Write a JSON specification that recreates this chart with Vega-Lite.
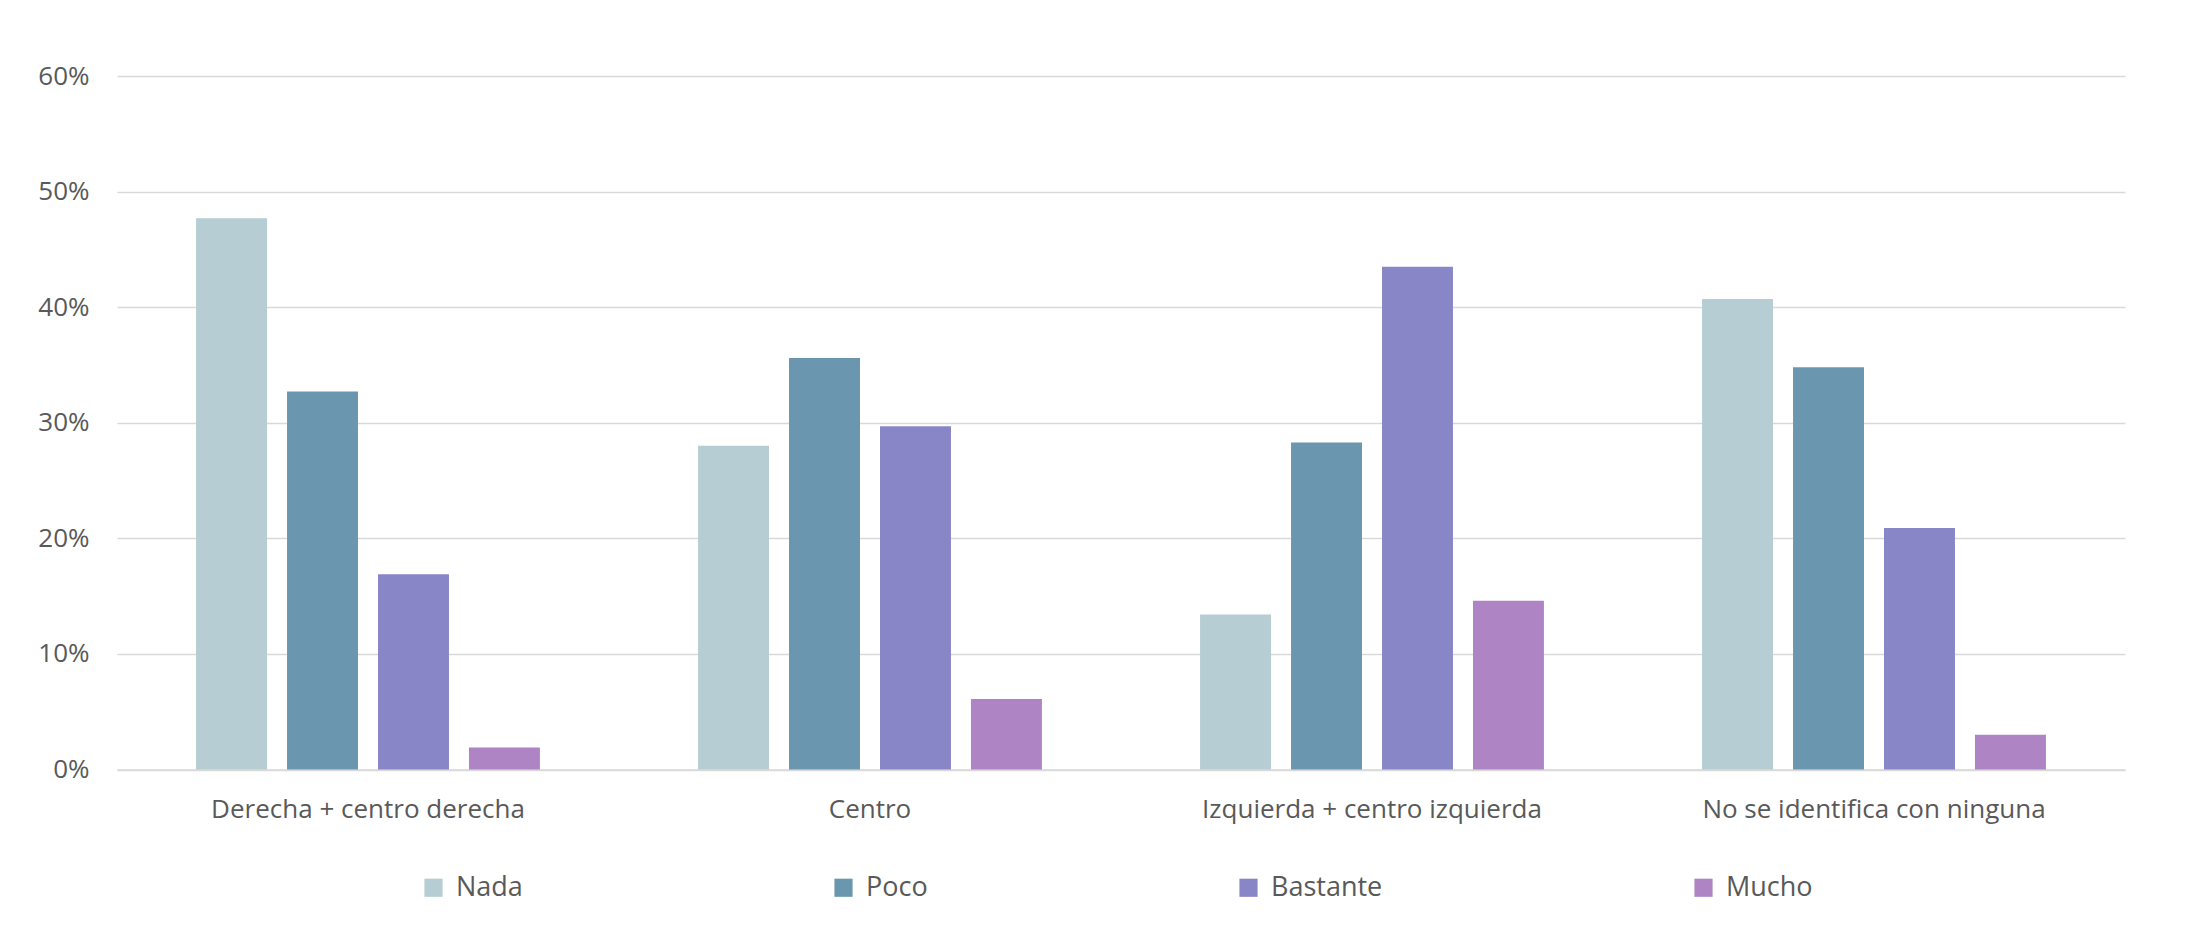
{
  "$schema": "https://vega.github.io/schema/vega-lite/v6.json",
  "autosize": {"type": "none"},
  "width": 2008,
  "height": 693.5,
  "padding": {"left": 117, "top": 76, "right": 68, "bottom": 162.5},
  "background": "white",
  "config": {
    "view": {"stroke": null},
    "font": "Open Sans",
    "axis": {"labelFont": "Open Sans", "labelColor": "#595959", "labelFontSize": 26, "title": null},
    "legend": {"labelFont": "Open Sans", "labelColor": "#595959", "labelFontSize": 27}
  },
  "data": {
    "values": [
      {"cat": "Derecha + centro derecha", "level": "Nada", "value": 0.477},
      {"cat": "Derecha + centro derecha", "level": "Poco", "value": 0.327},
      {"cat": "Derecha + centro derecha", "level": "Bastante", "value": 0.169},
      {"cat": "Derecha + centro derecha", "level": "Mucho", "value": 0.019},
      {"cat": "Centro", "level": "Nada", "value": 0.280},
      {"cat": "Centro", "level": "Poco", "value": 0.356},
      {"cat": "Centro", "level": "Bastante", "value": 0.297},
      {"cat": "Centro", "level": "Mucho", "value": 0.061},
      {"cat": "Izquierda + centro izquierda", "level": "Nada", "value": 0.134},
      {"cat": "Izquierda + centro izquierda", "level": "Poco", "value": 0.283},
      {"cat": "Izquierda + centro izquierda", "level": "Bastante", "value": 0.435},
      {"cat": "Izquierda + centro izquierda", "level": "Mucho", "value": 0.146},
      {"cat": "No se identifica con ninguna", "level": "Nada", "value": 0.407},
      {"cat": "No se identifica con ninguna", "level": "Poco", "value": 0.348},
      {"cat": "No se identifica con ninguna", "level": "Bastante", "value": 0.209},
      {"cat": "No se identifica con ninguna", "level": "Mucho", "value": 0.030}
    ]
  },
  "mark": {"type": "bar"},
  "encoding": {
    "x": {
      "field": "cat", "type": "nominal", "sort": null,
      "scale": {"paddingInner": 0.315, "paddingOuter": 0.1575},
      "axis": {"labelAngle": 0, "ticks": false, "domain": true, "domainColor": "#d9d9d9", "domainWidth": 1.5, "labelPadding": 27, "labelLimit": 0}
    },
    "xOffset": {
      "field": "level", "type": "nominal", "sort": ["Nada", "Poco", "Bastante", "Mucho"],
      "scale": {"paddingInner": 0.22, "paddingOuter": 0}
    },
    "y": {
      "field": "value", "type": "quantitative",
      "scale": {"domain": [0, 0.6], "nice": false},
      "axis": {"format": ".0%", "values": [0, 0.1, 0.2, 0.3, 0.4, 0.5, 0.6], "domain": false, "ticks": false, "gridColor": "#d9d9d9", "gridWidth": 1.5, "labelPadding": 28}
    },
    "color": {
      "field": "level", "type": "nominal",
      "sort": ["Nada", "Poco", "Bastante", "Mucho"],
      "scale": {"domain": ["Nada", "Poco", "Bastante", "Mucho"], "range": ["#b6cdd3", "#6a97af", "#8886c6", "#ae84c5"]},
      "legend": {
        "title": null, "orient": "none", "direction": "horizontal", "columns": 4,
        "legendX": 303, "legendY": 798, "padding": 0,
        "symbolType": "square", "symbolSize": 330, "symbolStrokeWidth": 0, "symbolOpacity": 1,
        "labelOffset": 9, "columnPadding": 307
      }
    }
  }
}
